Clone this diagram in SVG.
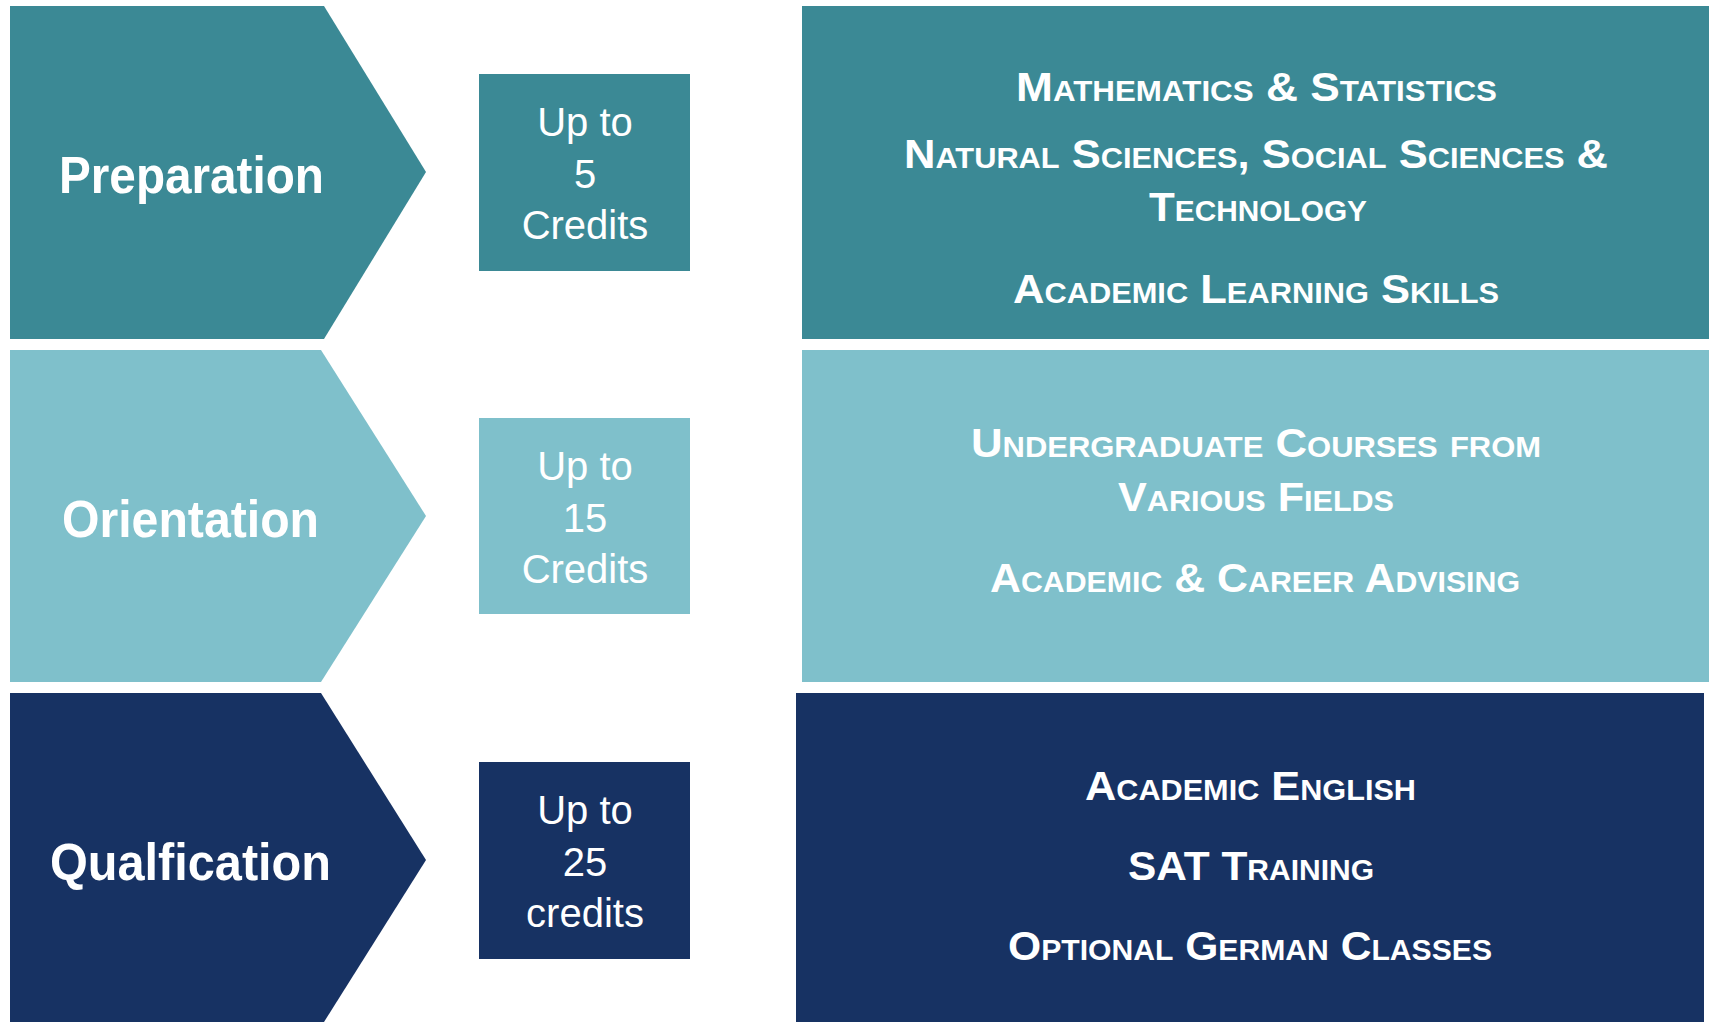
<svg xmlns="http://www.w3.org/2000/svg" width="1709" height="1022" viewBox="0 0 1709 1022">
<style>
.teal{fill:#3B8995}
.light{fill:#7FC0CB}
.navy{fill:#173263}
.head{font-family:"Liberation Sans",Arial,sans-serif;font-weight:bold;font-size:52px;fill:#fff;text-anchor:middle}
.cred{font-family:"Liberation Sans",Arial,sans-serif;font-size:40px;fill:#fff;text-anchor:middle}
.item{font-family:"Liberation Sans",Arial,sans-serif;font-weight:bold;font-size:41px;font-variant:small-caps;fill:#fff;text-anchor:middle}
</style>
<rect width="1709" height="1022" fill="#fff"/>
<g id="preparation">
<polygon class="teal" points="10,6 324,6 426,172 324,339 10,339"/>
<text class="head" x="191.5" y="193" textLength="265" lengthAdjust="spacingAndGlyphs">Preparation</text>
</g>
<g id="orientation">
<polygon class="light" points="10,350 321,350 426,516 321,682 10,682"/>
<text class="head" x="190.5" y="537" textLength="257" lengthAdjust="spacingAndGlyphs">Orientation</text>
</g>
<g id="qualification">
<polygon class="navy" points="10,693 321,693 426,860 324,1022 10,1022"/>
<text class="head" x="190.5" y="880" textLength="281" lengthAdjust="spacingAndGlyphs">Qualfication</text>
</g>
<g id="credits-preparation">
<rect class="teal" x="479" y="74" width="211" height="197"/>
<text class="cred" x="585" y="136">Up to</text>
<text class="cred" x="585" y="188">5</text>
<text class="cred" x="585" y="239">Credits</text>
</g>
<g id="credits-orientation">
<rect class="light" x="479" y="418" width="211" height="196"/>
<text class="cred" x="585" y="480">Up to</text>
<text class="cred" x="585" y="532">15</text>
<text class="cred" x="585" y="583">Credits</text>
</g>
<g id="credits-qualification">
<rect class="navy" x="479" y="762" width="211" height="197"/>
<text class="cred" x="585" y="824">Up to</text>
<text class="cred" x="585" y="876">25</text>
<text class="cred" x="585" y="927">credits</text>
</g>
<g id="content-preparation">
<rect class="teal" x="802" y="6" width="907" height="333"/>
<text class="item" x="1256.5" y="101" textLength="481" lengthAdjust="spacingAndGlyphs">Mathematics &amp; Statistics</text>
<text class="item" x="1256" y="168" textLength="704" lengthAdjust="spacingAndGlyphs">Natural Sciences, Social Sciences &amp;</text>
<text class="item" x="1258" y="221" textLength="218" lengthAdjust="spacingAndGlyphs">Technology</text>
<text class="item" x="1256" y="303" textLength="486" lengthAdjust="spacingAndGlyphs">Academic Learning Skills</text>
</g>
<g id="content-orientation">
<rect class="light" x="802" y="350" width="907" height="332"/>
<text class="item" x="1256" y="457" textLength="570" lengthAdjust="spacingAndGlyphs">Undergraduate Courses from</text>
<text class="item" x="1256" y="511" textLength="276" lengthAdjust="spacingAndGlyphs">Various Fields</text>
<text class="item" x="1255" y="592" textLength="530" lengthAdjust="spacingAndGlyphs">Academic &amp; Career Advising</text>
</g>
<g id="content-qualification">
<rect class="navy" x="796" y="693" width="908" height="329"/>
<text class="item" x="1250.5" y="800" textLength="331" lengthAdjust="spacingAndGlyphs">Academic English</text>
<text class="item" x="1251" y="880" textLength="246" lengthAdjust="spacingAndGlyphs">SAT Training</text>
<text class="item" x="1250" y="960" textLength="484" lengthAdjust="spacingAndGlyphs">Optional German Classes</text>
</g>
<g id="connectors"/>
</svg>
